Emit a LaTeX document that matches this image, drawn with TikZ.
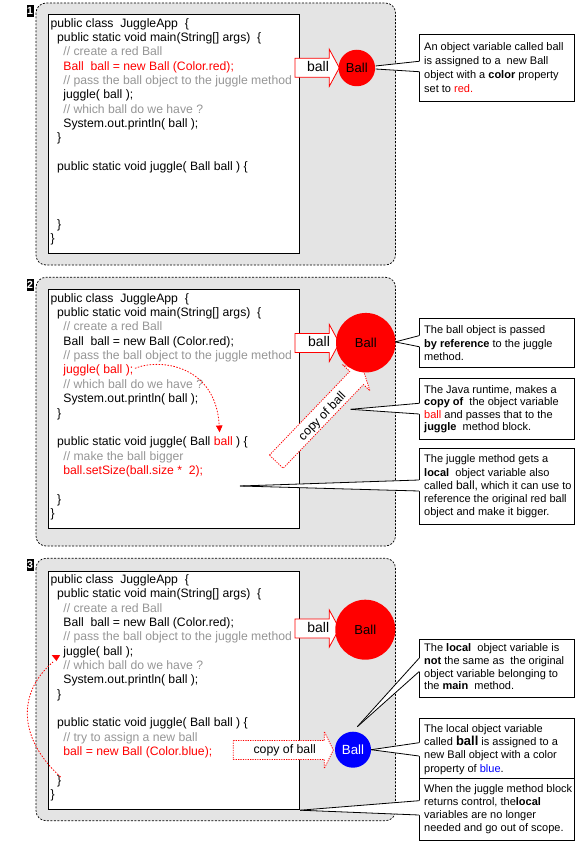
\documentclass[tikz,border=0pt]{standalone}
\usepackage{fontspec}
\setmainfont{Liberation Sans}
\usetikzlibrary{calc,arrows.meta}
\definecolor{panelgray}{RGB}{228,228,228}
\definecolor{cmtgray}{RGB}{150,150,150}
\definecolor{jred}{RGB}{255,0,0}
\definecolor{jblue}{RGB}{0,0,255}
\tikzset{
 panel/.style={fill=panelgray, draw=black, dash pattern=on 2pt off 1.5pt, line width=0.7pt, rounded corners=10pt},
 codebox/.style={fill=white, draw=black, line width=0.9pt, inner sep=0pt, anchor=north west},
 code/.style={anchor=base west, inner sep=0pt, font=\fontsize{12.2}{14.35}\selectfont},
 badge/.style={fill=black, text=white, inner sep=0pt, minimum width=7pt, minimum height=12pt, font=\bfseries\fontsize{10.5}{10.5}\selectfont},
 arrowbody/.style={fill=white, draw=jred, line width=0.8pt},
 copyarrow/.style={fill=white, draw=jred, line width=0.8pt, dash pattern=on 1.2pt off 1.2pt},
 arrowlabel/.style={inner sep=0pt, font=\fontsize{14}{14}\selectfont},
 copylabel/.style={inner sep=0pt, font=\fontsize{12.3}{12.3}\selectfont},
 ballnode/.style={circle, fill=jred, inner sep=0pt, font=\fontsize{13}{13}\selectfont},
 callbox/.style={draw=black, fill=white, line width=0.8pt, minimum width=155pt, inner sep=0pt, anchor=north west},
 calltext/.style={anchor=west, align=left, inner sep=0pt},
 tailline/.style={draw=black, line width=0.8pt},
 flowcurve/.style={jred, line width=0.8pt, dash pattern=on 1.5pt off 1.5pt},
}
\newcommand{\cl}[5]{\node[code, text=#4] (#1) at (#2,{#3}) {#5};}
\newcommand{\blockarrow}[6]{%
  \begin{scope}[shift={(#2,#3)}, rotate=#4]
    \draw[#1] (0,-9.5) -- ({#5-#6},-9.5) -- ({#5-#6},-18.5) -- (#5,0) -- ({#5-#6},18.5) -- ({#5-#6},9.5) -- (0,9.5) -- cycle;
  \end{scope}}
\newcommand{\calltail}[4]{%
  \fill[white] (#1) -- (#3) -- ($(#3)+(1.2,0)$) -- ($(#4)+(1.2,0)$) -- (#4) -- (#2) -- cycle;
  \draw[tailline] (#1) -- (#3);
  \draw[tailline] (#2) -- (#4);}
\def\iA{50.3}
\def\iB{57}
\def\iC{63.2}
\def\bA{27.2}
\def\bB{302.2}
\def\bC{583.3}
\def\ls{14.35}
\begin{document}
\begin{tikzpicture}[x=1pt,y=-1pt]
\useasboundingbox (0,0) rectangle (577,842);
\fill[white] (0,0) rectangle (577,842);

% ---------- panels ----------
\draw[panel] (36,3) rectangle (395.5,265);
\draw[panel] (36,277.3) rectangle (395.5,546);
\draw[panel] (36,558.3) rectangle (395.5,820.7);
\node[badge] (b1) at (30,10.8) {1};
\node[badge] (b2) at (30,285) {2};
\node[badge] (b3) at (30,565) {3};

% ---------- code boxes ----------
\node[codebox, minimum width=251pt, minimum height=239pt] (cb1) at (48.3,14.3) {};
\node[codebox, minimum width=251pt, minimum height=239pt] (cb2) at (48.3,289.3) {};
\node[codebox, minimum width=251pt, minimum height=238.6pt] (cb3) at (48.3,570.7) {};

% ---------- panel 1 code ----------
\cl{p1l0}{\iA}{\bA+\ls*0}{black}{public class\ \ JuggleApp\ \ \{}
\cl{p1l1}{\iB}{\bA+\ls*1}{black}{public static void main(String[] args)\ \ \{}
\cl{p1l2}{\iC}{\bA+\ls*2}{cmtgray}{// create a red Ball}
\cl{p1l3}{\iC}{\bA+\ls*3}{jred}{Ball\ \ ball = new Ball (Color.red);}
\cl{p1l4}{\iC}{\bA+\ls*4}{cmtgray}{// pass the ball object to the juggle method}
\cl{p1l5}{\iC}{\bA+\ls*5}{black}{juggle( ball );}
\cl{p1l6}{\iC}{\bA+\ls*6}{cmtgray}{// which ball do we have ?}
\cl{p1l7}{\iC}{\bA+\ls*7}{black}{System.out.println( ball );}
\cl{p1l8}{\iB}{\bA+\ls*8}{black}{\}}
\cl{p1l10}{\iB}{\bA+\ls*10}{black}{public static void juggle( Ball ball ) \{}
\cl{p1l14}{\iB}{\bA+\ls*14}{black}{\}}
\cl{p1l15}{\iA}{\bA+\ls*15}{black}{\}}

% ---------- panel 2 code ----------
\cl{p2l0}{\iA}{\bB+\ls*0}{black}{public class\ \ JuggleApp\ \ \{}
\cl{p2l1}{\iB}{\bB+\ls*1}{black}{public static void main(String[] args)\ \ \{}
\cl{p2l2}{\iC}{\bB+\ls*2}{cmtgray}{// create a red Ball}
\cl{p2l3}{\iC}{\bB+\ls*3}{black}{Ball\ \ ball = new Ball (Color.red);}
\cl{p2l4}{\iC}{\bB+\ls*4}{cmtgray}{// pass the ball object to the juggle method}
\cl{p2l5}{\iC}{\bB+\ls*5}{jred}{juggle( ball );}
\cl{p2l6}{\iC}{\bB+\ls*6}{cmtgray}{// which ball do we have ?}
\cl{p2l7}{\iC}{\bB+\ls*7}{black}{System.out.println( ball );}
\cl{p2l8}{\iB}{\bB+\ls*8}{black}{\}}
\cl{p2l10}{\iB}{\bB+\ls*10}{black}{public static void juggle( Ball \textcolor{jred}{ball} ) \{}
\cl{p2l11}{\iC}{\bB+\ls*11}{cmtgray}{// make the ball bigger}
\cl{p2l12}{\iC}{\bB+\ls*12}{jred}{ball.setSize(ball.size *\ \ 2);}
\cl{p2l14}{\iB}{\bB+\ls*14}{black}{\}}
\cl{p2l15}{\iA}{\bB+\ls*15}{black}{\}}

% ---------- panel 3 code ----------
\cl{p3l0}{\iA}{\bC+\ls*0}{black}{public class\ \ JuggleApp\ \ \{}
\cl{p3l1}{\iB}{\bC+\ls*1}{black}{public static void main(String[] args)\ \ \{}
\cl{p3l2}{\iC}{\bC+\ls*2}{cmtgray}{// create a red Ball}
\cl{p3l3}{\iC}{\bC+\ls*3}{black}{Ball\ \ ball = new Ball (Color.red);}
\cl{p3l4}{\iC}{\bC+\ls*4}{cmtgray}{// pass the ball object to the juggle method}
\cl{p3l5}{\iC}{\bC+\ls*5}{black}{juggle( ball );}
\cl{p3l6}{\iC}{\bC+\ls*6}{cmtgray}{// which ball do we have ?}
\cl{p3l7}{\iC}{\bC+\ls*7}{black}{System.out.println( ball );}
\cl{p3l8}{\iB}{\bC+\ls*8}{black}{\}}
\cl{p3l10}{\iB}{\bC+\ls*10}{black}{public static void juggle( Ball ball ) \{}
\cl{p3l11}{\iC}{\bC+\ls*11}{cmtgray}{// try to assign a new ball}
\cl{p3l12}{\iC}{\bC+\ls*12}{jred}{ball = new Ball (Color.blue);}
\cl{p3l14}{\iB}{\bC+\ls*14}{black}{\}}
\cl{p3l15}{\iA}{\bC+\ls*15}{black}{\}}

% ---------- dashed flow curves ----------
\coordinate (f2s) at (135,368.3);
\coordinate (f2e) at (219.6,432.3);
\draw[flowcurve, -{Triangle[width=6.5pt,length=6.8pt]}] (f2s) .. controls (160,358) and (216,365) .. (f2e);
\coordinate (f3s) at (60.5,777);
\coordinate (f3e) at (53,662);
\draw[flowcurve] (f3s) .. controls (15,735) and (20,690) .. (f3e);
\fill[jred] (51.7,655) -- (60.2,655) -- (56.5,661) -- cycle;

% ---------- block arrows ----------
\blockarrow{arrowbody}{295}{67.8}{0}{44.3}{10}
\node[arrowlabel] (a1) at (318,66.8) {ball};
\blockarrow{arrowbody}{295}{343}{0}{44.3}{10}
\node[arrowlabel] (a2) at (319,341.8) {ball};
\blockarrow{arrowbody}{295}{628.5}{0}{44.3}{10}
\node[arrowlabel] (a3) at (318.3,627.7) {ball};
\blockarrow{copyarrow}{276.3}{461.7}{46.2}{126}{10}
\node[copylabel, rotate=46.2] (cp2) at (322.5,416.7) {copy of ball};
\blockarrow{copyarrow}{233.3}{750}{0}{100}{9}
\node[copylabel, anchor=base] (cp3) at (284.7,753.3) {copy of ball};

% ---------- balls ----------
\node[ballnode, minimum size=36.5pt] (ball1) at (356.8,68) {Ball};
\node[ballnode, minimum size=59.5pt] (ball2) at (365.8,342.7) {Ball};
\node[ballnode, minimum size=60pt] (ball3) at (365.3,629.7) {Ball};
\node[ballnode, fill=jblue, text=white, minimum size=36pt, font=\fontsize{13.3}{13.3}\selectfont] (ball3b) at (353,749.7) {Ball};

% ---------- callout boxes ----------
\node[callbox, minimum height=66.7pt] (co1) at (419,34.3) {};
\node[calltext, font=\fontsize{11}{14}\selectfont] (co1t) at ($(co1.west)+(5,0)$)
 {An object variable called ball\\is assigned to a\ \ new Ball\\object with a \textbf{color} property\\set to \textcolor{jred}{red.}};
\node[callbox, minimum height=49pt] (co2a) at (419,318.3) {};
\node[calltext, font=\fontsize{11}{13.2}\selectfont] (co2at) at ($(co2a.west)+(5,0)$)
 {The ball object is passed\\\textbf{by reference} to the juggle\\method.};
\node[callbox, minimum height=61pt] (co2b) at (419,378.3) {};
\node[calltext, font=\fontsize{11}{12.5}\selectfont] (co2bt) at ($(co2b.west)+(5,0)$)
 {The Java runtime, makes a\\\textbf{copy of}\ \ the object variable\\\textcolor{jred}{ball} and passes that to the\\\textbf{juggle}\ \ method block.};
\node[callbox, minimum height=75.7pt] (co2c) at (419,448.3) {};
\node[calltext, font=\fontsize{11}{13.2}\selectfont] (co2ct) at ($(co2c.west)+(5,0)$)
 {The juggle method gets a\\\textbf{local}\ \ object variable also\\called {\fontsize{12}{13}\selectfont ball,} which it can use to\\reference the original red ball\\object and make it bigger.};
\node[callbox, minimum height=57.4pt] (co3a) at (419,639.3) {};
\node[calltext, font=\fontsize{11}{12.6}\selectfont] (co3at) at ($(co3a.west)+(5,-1.5)$)
 {The \textbf{local}\ \ object variable is\\\textbf{not} the same as\ \ the original\\object variable belonging to\\the \textbf{main}\ \ method.};
\node[callbox, minimum height=60pt] (co3b) at (419,718.3) {};
\node[calltext, font=\fontsize{11}{13.3}\selectfont] (co3bt) at ($(co3b.west)+(5,0.5)$)
 {The local object variable\\called {\bfseries\fontsize{13}{13}\selectfont ball} is assigned to a\\new Ball object with a color\\property of \textcolor{jblue}{blue}.};
\node[callbox, minimum height=61.7pt] (co3c) at (419,778.3) {};
\node[calltext, font=\fontsize{11}{13}\selectfont] (co3ct) at ($(co3c.west)+(5,0)$)
 {When the juggle method block\\returns control, the\textbf{local}\\variables are no longer\\needed and go out of scope.};

% ---------- callout tails ----------
\coordinate (t1p) at ($(ball1.east)+(0.3,-2)$);
\coordinate (t1q) at ($(ball1.east)+(0.3,1)$);
\coordinate (t1a) at ($(co1.north west)+(0,27)$);
\coordinate (t1b) at ($(co1.north west)+(0,37.4)$);
\calltail{t1p}{t1q}{t1a}{t1b}

\coordinate (t2p) at ($(ball2.east)+(-0.5,-0.8)$);
\coordinate (t2a) at ($(co2a.north west)+(0,17.4)$);
\coordinate (t2b) at ($(co2a.north west)+(0,28.4)$);
\calltail{t2p}{t2p}{t2a}{t2b}

\coordinate (t3p) at (350.7,409.3);
\coordinate (t3a) at ($(co2b.north west)+(0,25)$);
\coordinate (t3b) at ($(co2b.north west)+(0,35.7)$);
\calltail{t3p}{t3p}{t3a}{t3b}

\coordinate (t4p) at (240,486);
\coordinate (t4a) at ($(co2c.north west)+(0,31.7)$);
\coordinate (t4b) at ($(co2c.north west)+(0,42.7)$);
\calltail{t4p}{t4p}{t4a}{t4b}

\coordinate (t5p) at (357.3,726.7);
\coordinate (t5a) at ($(co3a.north west)+(0,19)$);
\coordinate (t5b) at ($(co3a.north west)+(0,32.4)$);
\calltail{t5p}{t5p}{t5a}{t5b}

\coordinate (t6p) at (ball3b.east);
\coordinate (t6a) at ($(co3b.north west)+(0,24.4)$);
\coordinate (t6b) at ($(co3b.north west)+(0,37.7)$);
\calltail{t6p}{t6p}{t6a}{t6b}

\coordinate (t7p) at (cb3.south east);
\coordinate (t7a) at ($(co3c.north west)+(0,22.4)$);
\coordinate (t7b) at ($(co3c.north west)+(0,36.7)$);
\calltail{t7p}{t7p}{t7a}{t7b}
\end{tikzpicture}
\end{document}
